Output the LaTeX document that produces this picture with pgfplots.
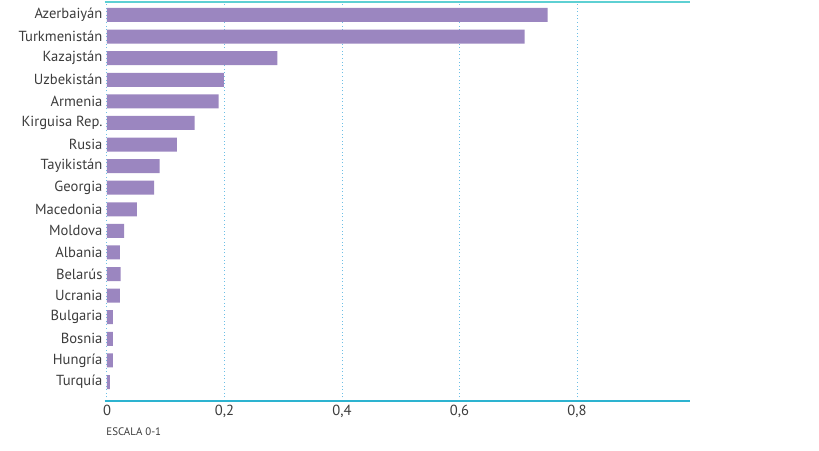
\documentclass[border=0pt]{standalone}
\usepackage{pgfplots}
\pgfplotsset{compat=1.18}
\usepackage{fontspec}
\setmainfont{PT Sans}
\definecolor{barc}{HTML}{9B86C0}
\definecolor{topc}{HTML}{5ED0D3}
\definecolor{botc}{HTML}{2DB3D0}
\definecolor{gridc}{HTML}{6CBFE6}
\definecolor{txt}{HTML}{3C3C3C}
\begin{document}
\begin{tikzpicture}
\begin{axis}[
  scale only axis,
  width=583pt, height=398pt,
  xmin=0, xmax=0.9923,
  ymin=-0.88, ymax=17.556,
  xbar, bar width=14pt,
  axis line style={draw=none},
  xtick={0,0.2,0.4,0.6,0.8},
  xticklabels={0,{0,2},{0,4},{0,6},{0,8}},
  ytick={0,...,17},
  yticklabels={Turquía,Hungría,Bosnia,Bulgaria,Ucrania,Belarús,Albania,Moldova,Macedonia,Georgia,Tayikistán,Rusia,Kirguisa Rep.,Armenia,Uzbekistán,Kazajstán,Turkmenistán,Azerbaiyán},
  major tick length=0pt,
  tick label style={font=\fontsize{14.6}{16}\selectfont, text=txt},
  yticklabel style={xshift=-1pt},
  xticklabel style={yshift=-1pt},
  xmajorgrids, ymajorgrids=false,
  major grid style={gridc, line width=1pt, dash pattern=on 1pt off 2.6pt},
  clip=false,
]
\addplot[draw=none, fill=barc] coordinates {
(0.005,0) (0.0098,1) (0.0098,2) (0.010,3) (0.022,4) (0.023,5) (0.022,6) (0.029,7) (0.051,8) (0.080,9)
(0.0897,10) (0.119,11) (0.149,12) (0.190,13) (0.199,14) (0.290,15) (0.711,16) (0.750,17)};
\draw[topc, line width=1.4pt] (rel axis cs:-0.004,1.0025) -- (rel axis cs:1.0,1.0025);
\draw[botc, line width=1.6pt] (rel axis cs:-0.004,0) -- (rel axis cs:1.0,0);
\node[anchor=west, font=\fontsize{10.9}{12}\selectfont, text=txt] at (rel axis cs:-0.007,-0.078) {ESCALA 0-1};
\path (rel axis cs:-0.18353,-0.12312) rectangle (rel axis cs:1.22127,1.00754);
\end{axis}
\end{tikzpicture}
\end{document}
